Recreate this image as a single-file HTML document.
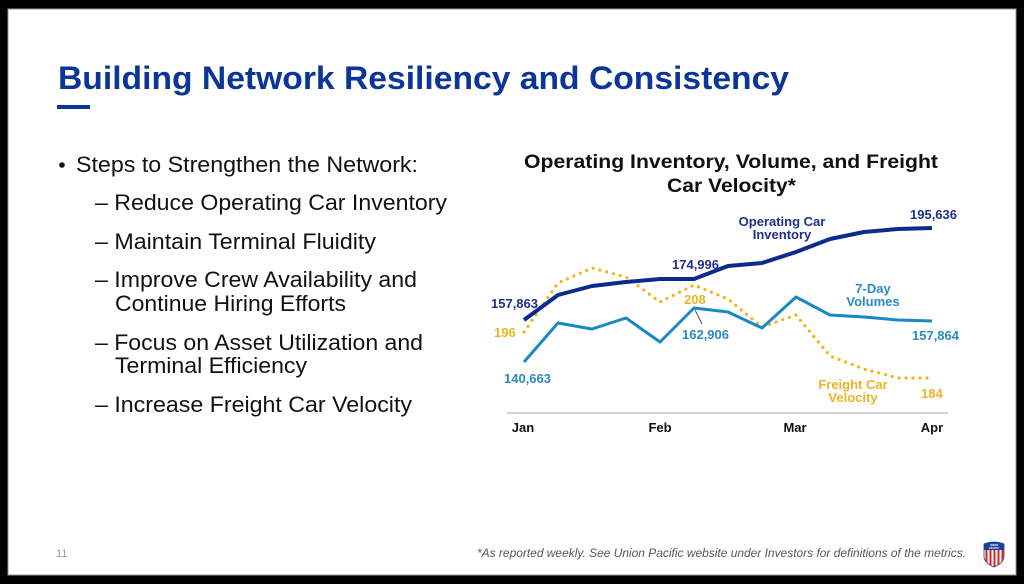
<!DOCTYPE html>
<html>
<head>
<meta charset="utf-8">
<style>
  html, body { margin:0; padding:0; background:#000; }
  body { width:1024px; height:584px; overflow:hidden; }
  svg { display:block; }
  text { font-family: "Liberation Sans", Arial, sans-serif; }
</style>
</head>
<body>
<svg width="1024" height="584" viewBox="0 0 1024 584" xmlns="http://www.w3.org/2000/svg">
  <rect x="0" y="0" width="1024" height="584" fill="#000"/>
  <rect x="8" y="9" width="1008" height="566" fill="#fff" stroke="#9a9a9a" stroke-width="1"/>

  <!-- Title -->
  <text x="58" y="89" font-size="32" font-weight="bold" fill="#0b3597" textLength="731" lengthAdjust="spacingAndGlyphs">Building Network Resiliency and Consistency</text>
  <rect x="57" y="105" width="33" height="4" fill="#0b3597"/>

  <!-- Bullets -->
  <g font-size="22" fill="#111">
    <circle cx="62" cy="165" r="2.8" fill="#111"/>
    <text x="76" y="172" textLength="342" lengthAdjust="spacingAndGlyphs">Steps to Strengthen the Network:</text>
    <text x="95" y="210" textLength="352" lengthAdjust="spacingAndGlyphs">– Reduce Operating Car Inventory</text>
    <text x="95" y="249" textLength="281" lengthAdjust="spacingAndGlyphs">– Maintain Terminal Fluidity</text>
    <text x="95" y="287" textLength="322" lengthAdjust="spacingAndGlyphs">– Improve Crew Availability and</text>
    <text x="115" y="311" textLength="231" lengthAdjust="spacingAndGlyphs">Continue Hiring Efforts</text>
    <text x="95" y="350" textLength="328" lengthAdjust="spacingAndGlyphs">– Focus on Asset Utilization and</text>
    <text x="115" y="373" textLength="192" lengthAdjust="spacingAndGlyphs">Terminal Efficiency</text>
    <text x="95" y="412" textLength="317" lengthAdjust="spacingAndGlyphs">– Increase Freight Car Velocity</text>
  </g>

  <!-- Chart title -->
  <text x="524" y="168" font-size="19.5" font-weight="bold" fill="#111" textLength="414" lengthAdjust="spacingAndGlyphs">Operating Inventory, Volume, and Freight</text>
  <text x="667" y="192" font-size="19.5" font-weight="bold" fill="#111" textLength="129" lengthAdjust="spacingAndGlyphs">Car Velocity*</text>

  <!-- Axis -->
  <line x1="507" y1="413" x2="948" y2="413" stroke="#c4c4c4" stroke-width="1.6"/>
  <g font-size="13" font-weight="bold" fill="#111" text-anchor="middle">
    <text x="523" y="432">Jan</text>
    <text x="660" y="432">Feb</text>
    <text x="795" y="432">Mar</text>
    <text x="932" y="432">Apr</text>
  </g>

  <!-- Series -->
  <polyline fill="none" stroke="#f4b21c" stroke-width="3.2" stroke-linecap="round" stroke-linejoin="round" stroke-dasharray="0 7"
    points="524,332 558,283 592,268 626,277 660,302 694,285 728,299 762,327 796,315 830,356 864,369 898,378 932,378"/>
  <polyline fill="none" stroke="#1a88c4" stroke-width="3" stroke-linejoin="round"
    points="524,362 558,323 592,329 626,318 660,342 694,308 728,312 762,328 796,297 830,315 864,317 898,320 932,321"/>
  <polyline fill="none" stroke="#0c2b8e" stroke-width="4" stroke-linejoin="round"
    points="524,320 558,295 592,286 626,282 660,279 694,279 728,266 762,263 796,252 830,239 864,232 898,229 932,228"/>

  <!-- leader line -->
  <line x1="695" y1="310" x2="702" y2="324" stroke="#555" stroke-width="1"/>

  <!-- Labels -->
  <g font-size="13" font-weight="bold">
    <text x="491" y="308" fill="#1f2f8e">157,863</text>
    <text x="672" y="269" fill="#1f2f8e">174,996</text>
    <text x="910" y="219" fill="#1f2f8e">195,636</text>
    <text x="782" y="226" fill="#1f2f8e" text-anchor="middle">Operating Car</text>
    <text x="782" y="239" fill="#1f2f8e" text-anchor="middle">Inventory</text>

    <text x="504" y="383" fill="#2a8ac6">140,663</text>
    <text x="682" y="339" fill="#2a8ac6">162,906</text>
    <text x="912" y="340" fill="#2a8ac6">157,864</text>
    <text x="873" y="293" fill="#2a8ac6" text-anchor="middle">7-Day</text>
    <text x="873" y="306" fill="#2a8ac6" text-anchor="middle">Volumes</text>

    <text x="494" y="337" fill="#f0b225">196</text>
    <text x="684" y="304" fill="#f0b225">208</text>
    <text x="921" y="398" fill="#f0b225">184</text>
    <text x="853" y="389" fill="#f0b225" text-anchor="middle">Freight Car</text>
    <text x="853" y="402" fill="#f0b225" text-anchor="middle">Velocity</text>
  </g>

  <!-- Footer -->
  <text x="56" y="557" font-size="11" fill="#9a9a9a">11</text>
  <text x="477" y="557" font-size="11.5" font-style="italic" fill="#555" textLength="489" lengthAdjust="spacingAndGlyphs">*As reported weekly. See Union Pacific website under Investors for definitions of the metrics.</text>

  <!-- Logo shield -->
  <g>
    <clipPath id="sh">
      <path d="M984,544 Q994,540 1004,544 L1004,556 Q1004,563 994,567 Q984,563 984,556 Z"/>
    </clipPath>
    <path d="M984,544 Q994,540 1004,544 L1004,556 Q1004,563 994,567 Q984,563 984,556 Z" fill="#fff" stroke="#1d3f9a" stroke-width="0.8"/>
    <g clip-path="url(#sh)">
      <rect x="984" y="540" width="20" height="10" fill="#1d3f9a"/>
      <rect x="985.5" y="550" width="2" height="18" fill="#d22"/>
      <rect x="989.5" y="550" width="2" height="18" fill="#d22"/>
      <rect x="993.5" y="550" width="2" height="18" fill="#d22"/>
      <rect x="997.5" y="550" width="2" height="18" fill="#d22"/>
      <rect x="1001.5" y="550" width="2" height="18" fill="#d22"/>
    </g>
    <text x="994" y="546" font-size="2.6" font-weight="bold" fill="#fff" text-anchor="middle">UNION</text>
    <text x="994" y="549" font-size="2.6" font-weight="bold" fill="#fff" text-anchor="middle">PACIFIC</text>
  </g>
</svg>
</body>
</html>
